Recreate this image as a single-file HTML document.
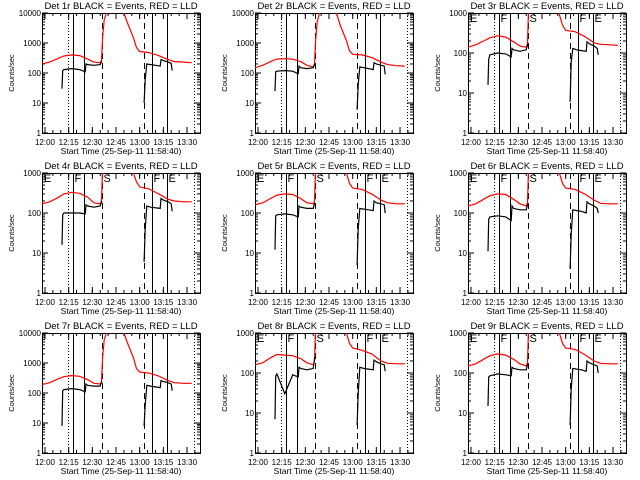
<!DOCTYPE html>
<html><head><meta charset="utf-8"><style>
html,body{margin:0;padding:0;background:#fff;}
svg{display:block;font-family:"Liberation Sans",sans-serif;}
</style></head><body>
<svg id="chart" width="640" height="480" viewBox="0 0 640 480" xmlns="http://www.w3.org/2000/svg">
<rect x="0" y="0" width="640" height="480" fill="#fff"/>
</svg>
<script>
const detNames = ["1r","2r","3r","4r","5r","6r","7r","8r","9r"];
const yMaxExp = [4,4,3,3,3,3,4,3,3];
const tickLabelsX = ["12:00","12:15","12:30","12:45","13:00","13:15","13:30"];
const tickMinutesX = [0,15,30,45,60,75,90];
const markerTimes = [14.6,17.7,24.7,36.1,62.7,67.8,77.3,94.4];
const markerStyles = ["dot","solid","solid","dash","dash","solid","solid","dot"];
const markerLetters = ["","F","","S","","F","E",""];
const redT = [-1.9,3,8,12,17,22,27,31,35,35.8,36.5,37.5,39,41,48,52,56,58,60,66,72,78,82,88,93];
const red1 = [200,230,300,370,400,380,290,230,220,260,1500,6000,10000,20000,20000,5000,1500,700,520,480,380,280,240,230,220];
const red2 = [150,180,240,290,300,290,240,180,160,200,1200,5000,10000,20000,20000,4000,1200,550,420,400,330,230,190,175,170];
const red3 = [140,160,200,240,270,250,190,150,140,170,1500,20000,20000,20000,20000,3000,900,500,370,340,260,180,165,160,155];
const red4 = [170,190,240,300,330,310,250,180,170,200,1500,20000,20000,20000,20000,3000,1000,600,450,400,300,220,200,190,190];
const red5 = [160,180,230,280,300,290,230,180,170,200,1500,20000,20000,20000,20000,3000,1000,550,420,390,300,210,180,170,170];
const red6 = [150,170,220,270,300,290,220,170,150,180,1500,20000,20000,20000,20000,3000,1000,550,420,390,300,210,175,170,170];
const red7 = [190,220,290,350,380,360,280,210,200,240,1500,6000,10000,20000,20000,5000,1500,650,500,460,370,260,220,210,210];
const red8 = [160,180,240,290,280,270,230,180,160,200,1500,20000,20000,20000,20000,3000,1000,550,420,370,300,200,175,170,170];
const red9 = [150,170,220,270,300,280,220,170,150,180,1500,20000,20000,20000,20000,3000,1000,550,420,390,290,200,175,170,170];
const blkT1 = [10.8,11.2,12,17,22,25.5,26,27,31,35,36];
const blkT2 = [62.8,63.5,64.5,67,70,73,73.5,75,78,80,80.6];
const blkA = [
 [30,120,130,140,130,110,200,190,180,190,250],
 [25,110,115,120,115,95,170,150,140,150,200],
 [16,70,90,100,95,80,130,120,110,120,170],
 [16,90,100,100,100,95,160,150,140,150,200],
 [12,85,90,95,90,80,150,140,130,130,180],
 [11,70,80,85,80,65,150,130,120,120,170],
 [8,120,130,140,130,110,200,180,170,170,250],
 [7,85,95,30,90,80,140,130,120,130,250],
 [15,80,85,95,90,85,140,130,120,120,170]];
const blkB = [
 [10,60,200,190,180,170,280,260,230,210,120],
 [6,40,160,150,140,130,220,200,180,170,90],
 [6,60,130,120,115,110,190,170,150,130,90],
 [6,40,150,140,135,130,230,210,190,170,110],
 [5,40,130,125,120,115,200,180,170,160,100],
 [4,30,120,115,110,100,190,170,150,130,100],
 [8,40,180,170,160,150,260,240,220,200,120],
 [5,30,140,130,125,120,210,190,170,160,110],
 [5,40,130,125,120,110,200,180,160,150,100]];
const redAll = [red1,red2,red3,red4,red5,red6,red7,red8,red9];

const svg = document.getElementById('chart');
const NS = 'http://www.w3.org/2000/svg';
function mk(tag, attrs, parent){const e=document.createElementNS(NS,tag);for(const k in attrs)e.setAttribute(k,attrs[k]);parent.appendChild(e);return e;}
const PL=42, PR=200, PT=13, PB=133;
function xs(t){return 45 + t*1.578;}

for(let p=0;p<9;p++){
  const ox=(p%3)*213, oy=Math.floor(p/3)*160;
  const g=mk('g',{transform:`translate(${ox},${oy})`},svg);
  
  
  const ymx=yMaxExp[p];
  const ys=v=>PB-(Math.log10(v))/ymx*(PB-PT);
  const cid='clip'+p;
  const cp=mk('clipPath',{id:cid},g); mk('rect',{x:PL,y:PT,width:PR-PL,height:PB-PT},cp);
  const ti=mk('text',{x:121,y:9,'font-size':'9.5','text-anchor':'middle',fill:'#000'},g);
  ti.textContent='Det '+detNames[p]+' BLACK = Events, RED = LLD';
  
  
  const yl=mk('text',{x:0,y:0,'font-size':'7.5','text-anchor':'middle',transform:'translate(14,73) rotate(-90)'},g);
  yl.textContent='Counts/sec';
  
  
  const xt=mk('text',{x:121,y:154,'font-size':'8.5','text-anchor':'middle'},g);
  xt.textContent='Start Time (25-Sep-11 11:58:40)';
  
  
  const fr=mk('rect',{x:PL+0.5,y:PT+0.5,width:PR-PL,height:PB-PT,fill:'none',stroke:'#000','stroke-width':1},g);
  
  
  for(let e=0;e<=ymx;e++){
    const y=ys(Math.pow(10,e));
    mk('line',{x1:PL,x2:PL+6,y1:y,y2:y,stroke:'#000'},g);
    mk('line',{x1:PR-6,x2:PR,y1:y,y2:y,stroke:'#000'},g);
    const tl=mk('text',{x:PL-1,y:y+3,'font-size':'8','text-anchor':'end'},g);
    tl.textContent=String(Math.pow(10,e));
    
    
    if(e<ymx){for(let m=2;m<10;m++){const yy=ys(m*Math.pow(10,e));
      mk('line',{x1:PL,x2:PL+3,y1:yy,y2:yy,stroke:'#000'},g);
      mk('line',{x1:PR-3,x2:PR,y1:yy,y2:yy,stroke:'#000'},g);}}
  }
  for(let i=0;i<tickMinutesX.length;i++){
    const x=xs(tickMinutesX[i]);
    mk('line',{x1:x,x2:x,y1:PB,y2:PB-6,stroke:'#000'},g);
    mk('line',{x1:x,x2:x,y1:PT,y2:PT+6,stroke:'#000'},g);
    const tl=mk('text',{x:x,y:145,'font-size':'8','text-anchor':'middle'},g);
    tl.textContent=tickLabelsX[i];
    
    
  }
  for(let m=0;m<=95;m+=5){const x=xs(m);
    mk('line',{x1:x,x2:x,y1:PB,y2:PB-3,stroke:'#000'},g);
    mk('line',{x1:x,x2:x,y1:PT,y2:PT+3,stroke:'#000'},g);}
  if(ymx===3){
    const le=mk('text',{x:PL+2,y:PT+9,'font-size':'11'},g);
    le.textContent='E';
    
    
  }
  for(let i=0;i<markerTimes.length;i++){
    const x=Math.round(xs(markerTimes[i]))+0.5;
    const st=markerStyles[i];
    const ln=mk('line',{x1:x,x2:x,y1:PT,y2:PB,stroke:'#000','stroke-width':1},g);
    if(st==='dot')ln.setAttribute('stroke-dasharray','1,2');
    if(st==='dash')ln.setAttribute('stroke-dasharray','6,4');
    
    
    if(markerLetters[i]&&ymx===3){
      const lt=mk('text',{x:x+1,y:PT+9,'font-size':'11'},g);
      lt.textContent=markerLetters[i];
      
      
    }
  }
  const cg=mk('g',{'clip-path':`url(#${cid})`},g);
  const rv=redAll[p];
  let d='';for(let i=0;i<redT.length;i++){d+=(i?'L':'M')+xs(redT[i]).toFixed(1)+','+ys(rv[i]).toFixed(1);}
  const rp=mk('path',{d:d,fill:'none',stroke:'#f00','stroke-width':1.2},cg);
  
  
  for(const [T,V] of [[blkT1,blkA[p]],[blkT2,blkB[p]]]){
    let d2='';for(let i=0;i<T.length;i++){d2+=(i?'L':'M')+xs(T[i]).toFixed(1)+','+ys(V[i]).toFixed(1);}
    const bp=mk('path',{d:d2,fill:'none',stroke:'#000','stroke-width':1.2},cg);
    
    
  }
}
</script>
</body></html>
